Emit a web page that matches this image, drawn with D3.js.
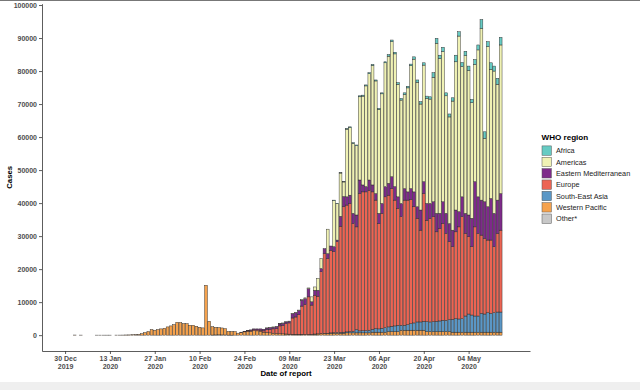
<!DOCTYPE html>
<html>
<head>
<meta charset="utf-8">
<script src="https://cdn.jsdelivr.net/npm/d3@7"></script>
<style>
  body { margin: 0; background: #fff; }
  #wrapper svg { display: block; font-family: "Liberation Sans", Arial, sans-serif; }
</style>
</head>
<body>
<div id="wrapper"></div>
<script>
// daily cases by date of report, one entry per day starting 30 Dec 2019
// null in westernPacific = no report on that day
const firstDay = "2019-12-30"

const westernPacific = [
  null, null, null, 40, null, 20, null, null, null, null,
  10, 10, 10, 10, 10, null, 20, 20, 30, 60,
  80, 120, 150, 200, 450, 800, 1100, 1700, 1500, 1700,
  1900, 2100, 2500, 2800, 3200, 3900, 3800, 3500, 3500, 3000,
  3000, 2700, 2400, 2200, 15100, 4200, 2500, 2300, 2200, 2100,
  1900, 1100, 1100, 1100, 600, 850, 1000, 1150, 1200, 1400,
  1300, 1100, 900, 800, 700, 600, 500, 450, 400, 350,
  300, 250, 250, 250, 250, 200, 200, 200, 300, 350,
  400, 500, 500, 600, 600, 600, 600, 600, 700, 700,
  700, 700, 700, 700, 700, 700, 900, 900, 900, 900,
  900, 1100, 1100, 1100, 1100, 1500, 1500, 1500, 1500, 1500,
  1500, 1500, 1500, 1100, 1100, 1100, 1100, 1100, 1100, 1100,
  1100, 900, 900, 900, 900, 900, 900, 900, 900, 900,
  900, 900, 900, 900, 900, 900, 900,
]

const southEastAsia = [
  0, 0, 0, 0, 0, 0, 0, 0, 0, 0,
  0, 0, 0, 0, 0, 0, 0, 0, 0, 0,
  0, 0, 0, 0, 0, 0, 0, 0, 0, 0,
  0, 0, 0, 0, 0, 0, 0, 0, 0, 0,
  0, 0, 0, 0, 0, 0, 0, 0, 0, 0,
  0, 0, 0, 0, 0, 0, 0, 0, 0, 0,
  0, 0, 0, 0, 0, 0, 0, 0, 0, 10,
  10, 10, 20, 20, 30, 30, 40, 40, 50, 50,
  60, 80, 80, 100, 150, 200, 250, 300, 300, 400,
  500, 1000, 600, 650, 700, 800, 900, 1100, 1000, 1200,
  1400, 1400, 1600, 1700, 1900, 1500, 1500, 1700, 2000, 2200,
  2500, 2500, 2700, 3000, 2900, 3000, 3100, 3200, 3400, 3400,
  3600, 3900, 4100, 4000, 4100, 4900, 5500, 5200, 4900, 4900,
  5700, 5500, 5900, 5700, 5900, 6100, 6100,
]

const europe = [
  0, 0, 0, 0, 0, 0, 0, 0, 0, 0,
  0, 0, 0, 0, 0, 0, 0, 0, 0, 0,
  0, 0, 0, 0, 0, 0, 0, 0, 0, 0,
  0, 0, 0, 0, 0, 0, 0, 0, 0, 0,
  0, 0, 0, 0, 0, 0, 0, 0, 0, 0,
  0, 0, 0, 0, 0, 20, 50, 150, 250, 250,
  300, 400, 400, 850, 1050, 1300, 1500, 2350, 2550, 3140,
  3390, 4940, 5230, 5930, 8520, 9070, 11360, 8860, 11750, 11400,
  18740, 24120, 22620, 25000, 24550, 27500, 32150, 38000, 38400, 38800,
  32600, 31100, 41600, 42050, 42000, 42400, 41600, 38900, 31900, 34800,
  39600, 39900, 41700, 38100, 35400, 32900, 37900, 37700, 37600, 35200,
  31400, 27800, 38700, 30700, 31400, 31800, 27100, 28000, 29300, 26300,
  23600, 22000, 26300, 27900, 30900, 25000, 23400, 20700, 27000, 25000,
  23700, 22900, 22000, 22200, 20000, 23800, 24800,
]

const easternMed = [
  0, 0, 0, 0, 0, 0, 0, 0, 0, 0,
  0, 0, 0, 0, 0, 0, 0, 0, 0, 0,
  0, 0, 0, 0, 0, 0, 0, 0, 0, 0,
  0, 0, 0, 0, 0, 0, 0, 0, 0, 0,
  0, 0, 0, 0, 0, 0, 0, 0, 0, 0,
  0, 0, 0, 0, 0, 30, 50, 100, 150, 250,
  300, 400, 500, 500, 550, 500, 600, 600, 650, 500,
  500, 1300, 1300, 1300, 1800, 1800, 2500, 1000, 1500, 1800,
  1000, 1500, 1500, 1300, 1500, 500, 3000, 3100, 2500, 2500,
  3100, 3600, 4100, 2100, 1600, 3100, 2100, 2000, 3100, 3000,
  3100, 3600, 3600, 4100, 3500, 4000, 3500, 2500, 3300, 4500,
  3500, 6100, 3600, 5100, 4500, 4500, 5600, 4600, 6600, 6100,
  5500, 5000, 6600, 4600, 6000, 6100, 6600, 8600, 13700, 11100,
  10600, 11100, 10100, 12600, 10100, 10100, 11100,
]

const americas = [
  0, 0, 0, 0, 0, 0, 0, 0, 0, 0,
  0, 0, 0, 0, 0, 0, 0, 0, 0, 0,
  0, 0, 0, 0, 0, 0, 0, 0, 0, 0,
  0, 0, 0, 0, 0, 0, 0, 0, 0, 0,
  0, 0, 0, 0, 0, 0, 0, 0, 0, 0,
  0, 0, 0, 0, 0, 0, 0, 0, 0, 0,
  0, 0, 0, 50, 100, 100, 100, 100, 100, 50,
  50, 100, 100, 100, 150, 200, 200, 1500, 1000, 3600,
  3000, 0, 7400, 0, 14000, 11000, 13100, 4400, 20500, 20500,
  21200, 21000, 25200, 26900, 30500, 32200, 36200, 34100, 31500, 33200,
  37500, 38500, 40900, 40200, 34100, 31300, 28500, 31500, 37200, 40200,
  37700, 32100, 35300, 31800, 31600, 37700, 51500, 46900, 45500, 35600,
  32300, 39100, 44900, 53200, 39500, 47800, 43800, 35000, 35500, 44500,
  52000, 19200, 48500, 39100, 43100, 35100, 45000,
]

const africa = [
  0, 0, 0, 0, 0, 0, 0, 0, 0, 0,
  0, 0, 0, 0, 0, 0, 0, 0, 0, 0,
  0, 0, 0, 0, 0, 0, 0, 0, 0, 0,
  0, 0, 0, 0, 0, 0, 0, 0, 0, 0,
  0, 0, 0, 0, 0, 0, 0, 0, 0, 0,
  0, 0, 0, 0, 0, 0, 0, 0, 0, 0,
  0, 0, 0, 0, 0, 0, 0, 0, 0, 0,
  0, 0, 0, 0, 0, 0, 0, 0, 0, 0,
  0, 0, 0, 0, 100, 100, 100, 100, 200, 200,
  200, 200, 300, 300, 300, 300, 300, 300, 300, 300,
  300, 500, 500, 500, 500, 500, 500, 500, 500, 700,
  700, 700, 700, 700, 700, 1400, 1500, 1000, 1300, 900,
  900, 1000, 2000, 1300, 1200, 1300, 1300, 1000, 1500, 1500,
  2700, 2000, 1500, 2000, 1500, 1800, 2300,
]

const other = [
  0, 0, 0, 0, 0, 0, 0, 0, 0, 0,
  0, 0, 0, 0, 0, 0, 0, 0, 0, 0,
  0, 0, 0, 0, 0, 0, 0, 0, 0, 0,
  0, 0, 0, 0, 0, 0, 0, 0, 0, 0,
  0, 0, 0, 0, 0, 0, 40, 70, 100, 80,
  60, 20, 10, 0, 0, 0, 0, 0, 0, 0,
  0, 0, 0, 0, 0, 0, 0, 0, 0, 0,
  0, 0, 0, 0, 0, 0, 0, 0, 0, 0,
  0, 0, 0, 0, 0, 0, 0, 0, 0, 0,
  0, 0, 0, 0, 0, 0, 0, 0, 0, 0,
  0, 0, 0, 0, 0, 0, 0, 0, 0, 0,
  0, 0, 0, 0, 0, 0, 0, 0, 0, 0,
  0, 0, 0, 0, 0, 0, 0, 0, 0, 0,
  0, 0, 0, 0, 0, 0, 0,
]

const regionKeys = ["africa", "americas", "easternMed", "europe", "southEastAsia", "westernPacific", "other"]
const regionNames = ["Africa", "Americas", "Eastern Mediterranean", "Europe", "South-East Asia", "Western Pacific", "Other*"]
const regionColors = ["#66cbc3", "#f0f2b4", "#7e2a8a", "#ec6453", "#5a97c6", "#f5a24d", "#c8c8c8"]

const yTicks = [0, 10000, 20000, 30000, 40000, 50000, 60000, 70000, 80000, 90000, 100000]
const xTickDates = ["2019-12-30", "2020-01-13", "2020-01-27", "2020-02-10", "2020-02-24",
  "2020-03-09", "2020-03-23", "2020-04-06", "2020-04-20", "2020-05-04"]

function drawChart() {
  const parseDate = d3.utcParse("%Y-%m-%d")
  const day0 = parseDate(firstDay)

  const series = { africa, americas, easternMed, europe, southEastAsia, westernPacific, other }

  const dataset = westernPacific
    .map((v, i) => {
      const row = { date: d3.utcDay.offset(day0, i) }
      regionKeys.forEach(k => row[k] = series[k][i] || 0)
      row.reported = v !== null
      return row
    })
    .filter(d => d.reported)

  const dimensions = {
    width: 640,
    height: 390,
    panelLeft: 42,
    panelRight: 530,
    panelTop: 3.7,
    panelBottom: 351,
  }

  const wrapper = d3.select("#wrapper")
    .append("svg")
      .attr("width", dimensions.width)
      .attr("height", dimensions.height)

  // screenshot frame
  wrapper.append("rect")
      .attr("x", 0).attr("y", 382)
      .attr("width", dimensions.width).attr("height", 8)
      .attr("fill", "#efefef")
  wrapper.append("line")
      .attr("x1", 0).attr("x2", dimensions.width)
      .attr("y1", 0.5).attr("y2", 0.5)
      .attr("stroke", "#777")

  // scales
  const xScale = d3.scaleUtc()
    .domain([d3.utcHour.offset(day0, -7.2 * 24), d3.utcHour.offset(day0, 145.2 * 24)])
    .range([dimensions.panelLeft, dimensions.panelRight])

  const yScale = d3.scaleLinear()
    .domain([-4800, 100400])
    .range([dimensions.panelBottom, dimensions.panelTop])

  const colorScale = d3.scaleOrdinal()
    .domain(regionKeys)
    .range(regionColors)

  // stack bottom -> top
  const stackOrder = regionKeys.slice().reverse()
  const stacked = d3.stack().keys(stackOrder)(dataset)

  const barWidth = xScale(d3.utcHour.offset(day0, 0.9 * 24)) - xScale(day0)

  const bars = wrapper.append("g")
  bars.selectAll("g")
    .data(stacked)
    .join("g")
      .attr("fill", d => colorScale(d.key))
    .selectAll("rect")
    .data(d => d.filter(s => s[1] - s[0] > 0))
    .join("rect")
      .attr("x", d => xScale(d.data.date) - barWidth / 2)
      .attr("y", d => yScale(d[1]))
      .attr("width", barWidth)
      .attr("height", d => yScale(d[0]) - yScale(d[1]))
      .attr("stroke", "#2a2a2a")
      .attr("stroke-width", 0.45)

  // axes
  const yAxisGenerator = d3.axisLeft(yScale)
    .tickValues(yTicks)
    .tickFormat(d3.format("d"))
    .tickSize(3)
    .tickSizeOuter(0)
    .tickPadding(2)

  const yAxis = wrapper.append("g")
      .attr("transform", `translate(${dimensions.panelLeft},0)`)
      .call(yAxisGenerator)

  const xAxisGenerator = d3.axisBottom(xScale)
    .tickValues(xTickDates.map(parseDate))
    .tickFormat("")
    .tickSize(3)
    .tickSizeOuter(0)

  const xAxis = wrapper.append("g")
      .attr("transform", `translate(0,${dimensions.panelBottom})`)
      .call(xAxisGenerator)

  const xLabels = xAxis.selectAll(".tick")
    .append("text")
      .attr("fill", "#4d4d4d")
      .attr("text-anchor", "middle")
  xLabels.append("tspan")
      .attr("x", 0).attr("y", 9.6)
      .text(d => d3.utcFormat("%d %b")(d))
  xLabels.append("tspan")
      .attr("x", 0).attr("y", 17.6)
      .text(d => d3.utcFormat("%Y")(d))

  ;[xAxis, yAxis].forEach(axis => {
    axis.attr("font-family", null).attr("font-size", null)
    axis.select(".domain").attr("stroke", "#333").attr("stroke-width", 0.8)
    axis.selectAll(".tick line").attr("stroke", "#333").attr("stroke-width", 0.8)
    axis.selectAll(".tick text")
        .attr("fill", "#4d4d4d")
        .style("font-size", "7px")
        .style("font-weight", "bold")
  })

  // axis titles
  wrapper.append("text")
      .attr("x", (dimensions.panelLeft + dimensions.panelRight) / 2)
      .attr("y", 375.5)
      .attr("text-anchor", "middle")
      .style("font-size", "7.8px")
      .style("font-weight", "bold")
      .text("Date of report")

  wrapper.append("text")
      .attr("transform", `translate(11.5,${(dimensions.panelTop + dimensions.panelBottom) / 2}) rotate(-90)`)
      .attr("text-anchor", "middle")
      .style("font-size", "7.8px")
      .style("font-weight", "bold")
      .text("Cases")

  // legend
  const legend = wrapper.append("g")
      .attr("transform", "translate(541.5,0)")

  legend.append("text")
      .attr("x", 0)
      .attr("y", 139.5)
      .style("font-size", "8.1px")
      .style("font-weight", "bold")
      .text("WHO region")

  const legendItems = legend.selectAll(".item")
    .data(regionKeys)
    .join("g")
      .attr("class", "item")
      .attr("transform", (d, i) => `translate(0,${150.6 + i * 11.35})`)

  legendItems.append("rect")
      .attr("x", 0.5)
      .attr("y", -4.7)
      .attr("width", 9.4)
      .attr("height", 9.4)
      .attr("fill", d => colorScale(d))
      .attr("stroke", "#555")
      .attr("stroke-width", 0.5)

  legendItems.append("text")
      .attr("x", 14.5)
      .attr("y", 0)
      .attr("dy", "0.35em")
      .attr("fill", "#222")
      .style("font-size", "7.3px")
      .text((d, i) => regionNames[i])
}
drawChart()
</script>
</body>
</html>
